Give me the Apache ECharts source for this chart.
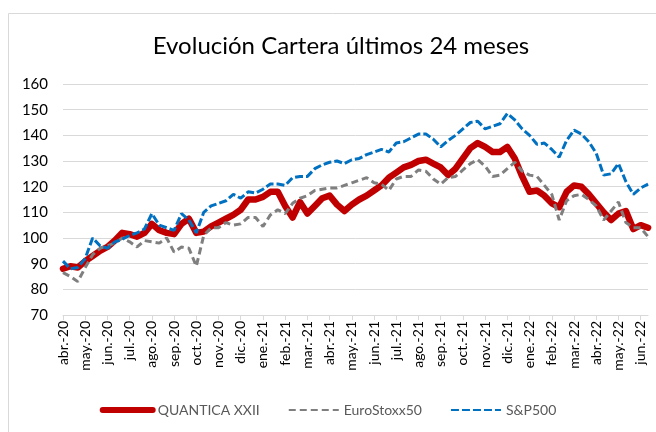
<!DOCTYPE html>
<html>
<head>
<meta charset="utf-8">
<script src="https://cdn.jsdelivr.net/npm/echarts@6/dist/echarts.min.js"></script>
<style>
  html, body { margin: 0; padding: 0; background: #fff; }
  #main { width: 656px; height: 432px; }
</style>
</head>
<body>
<div id="main"></div>
<script>
// etiquetas de meses del eje X
var meses = ['abr.-20','may.-20','jun.-20','jul.-20','ago.-20','sep.-20','oct.-20','nov.-20','dic.-20',
  'ene.-21','feb.-21','mar.-21','abr.-21','may.-21','jun.-21','jul.-21','ago.-21','sep.-21','oct.-21','nov.-21','dic.-21',
  'ene.-22','feb.-22','mar.-22','abr.-22','may.-22','jun.-22'];

// valores cada ~1/3 de mes desde abr.-20
var quantica = [88,89,88.5,91,93,95,96.5,99,102,101.5,100.5,102,105.5,103,102,101.5,105.5,107.5,102,102.5,
  104.5,106,107.5,109,111,115,115,116,118,118,112.5,108,114,109.5,112.5,115.5,116.5,113,110.5,113,
  115,116.5,118.5,120.5,123.5,125.5,127.5,128.5,130,130.5,129,127.5,124.5,127,131,135,137,135.5,133.5,133.5,
  135.5,131,124,118,118.5,116.5,113.5,112,118,120.5,120,117,113.5,110,107,109.5,110.5,103.5,105,104];

var eurostoxx = [86.5,85,83,88.5,93.5,96,97,98,100,98.5,96.5,99,98.5,98,100,94.5,96.5,96,89,101,
  104,104,106,105,105.5,108,108,104.5,109,111,109.5,113.5,115.5,116.5,118.5,119,119.5,119.5,120.5,121.5,
  122.5,123.5,121.5,121,118.5,123,124,124,126.5,126,123,121,123.5,124,126.5,129,130.5,128,124,124.5,
  127,129.5,126,124.5,124,120.5,117,107,114.5,116.5,117,115,112.5,107,110.5,114,106,104,104,100.5];

var sp500 = [91,88,88.5,92,100,97,96,98.5,99.5,101,102,103.5,109.5,105,104,103,109.5,107,102,110,
  112.5,113.5,114.5,117,115.5,118,117.5,119,121,121,120.5,123.5,124,124,127,128.5,129.5,130,129,130.5,
  131,132.5,133.5,134.5,133.5,137,137.5,139,140.5,140.5,138.5,135.5,138,140,142.5,145,145.5,142.5,143.5,144.5,
  148.5,146,142.5,140,136.5,137,134.5,131.5,138,142,140.5,137.5,133,124.5,125,129,122,117,119.5,121];

var ticksY = [70, 160, 10];
var paso = 1 / 3; // meses entre puntos

function pares(arr) {
  return arr.map(function (v, i) { return [i * paso, v]; });
}

var myChart = echarts.init(document.getElementById('main'));
var fuente = 'Lato';

var option = {
  backgroundColor: '#fff',
  animation: false,
  textStyle: { fontFamily: fuente },
  title: {
    text: 'Evolución Cartera últimos 24 meses',
    left: 336,
    textAlign: 'center',
    top: 29,
    textStyle: { fontFamily: fuente, fontSize: 24, fontWeight: 'normal', color: '#000' }
  },
  graphic: [{
    type: 'rect',
    shape: { x: 8.5, y: 13.5, width: 700, height: 500 },
    style: { fill: 'none', stroke: '#d9d9d9', lineWidth: 1 },
    silent: true
  }],
  grid: { left: 63, right: 8, top: 84, bottom: 117 },
  legend: {
    bottom: 10,
    left: 'center',
    itemWidth: 50,
    itemHeight: 14,
    itemGap: 28,
    itemStyle: { opacity: 0 },
    textStyle: { fontFamily: fuente, fontSize: 14, color: '#595959' },
    data: [
      { name: 'QUANTICA XXII', lineStyle: { width: 6 } },
      { name: 'EuroStoxx50' },
      { name: 'S&P500' }
    ]
  },
  xAxis: {
    type: 'value',
    min: 0,
    max: 26.33,
    interval: 1,
    axisLine: { lineStyle: { color: '#d9d9d9' } },
    axisTick: { show: true, length: 5, lineStyle: { color: '#d9d9d9' } },
    splitLine: { show: false },
    axisLabel: {
      rotate: 90,
      fontSize: 14,
      color: '#000',
      margin: 6,
      showMaxLabel: false,
      formatter: function (v) {
        var k = Math.round(v);
        return (Math.abs(v - k) < 1e-6 && meses[k]) ? meses[k] : '';
      }
    }
  },
  yAxis: {
    type: 'value',
    min: ticksY[0],
    max: ticksY[1],
    interval: ticksY[2],
    axisLine: { show: false },
    axisTick: { show: false },
    splitLine: { lineStyle: { color: '#d9d9d9', width: 1 } },
    axisLabel: { fontSize: 15, color: '#000', margin: 15 }
  },
  series: [
    {
      name: 'QUANTICA XXII',
      type: 'line',
      data: pares(quantica),
      symbol: 'none',
      lineStyle: { color: '#c00000', width: 6.5, join: 'round', cap: 'round' },
      itemStyle: { color: '#c00000' }
    },
    {
      name: 'EuroStoxx50',
      type: 'line',
      data: pares(eurostoxx),
      symbol: 'none',
      lineStyle: { color: '#7f7f7f', width: 3, type: [7, 4] },
      itemStyle: { color: '#7f7f7f' }
    },
    {
      name: 'S&P500',
      type: 'line',
      data: pares(sp500),
      symbol: 'none',
      lineStyle: { color: '#0070c0', width: 3, type: [8, 3] },
      itemStyle: { color: '#0070c0' }
    }
  ]
};

myChart.setOption(option);
</script>
</body>
</html>
